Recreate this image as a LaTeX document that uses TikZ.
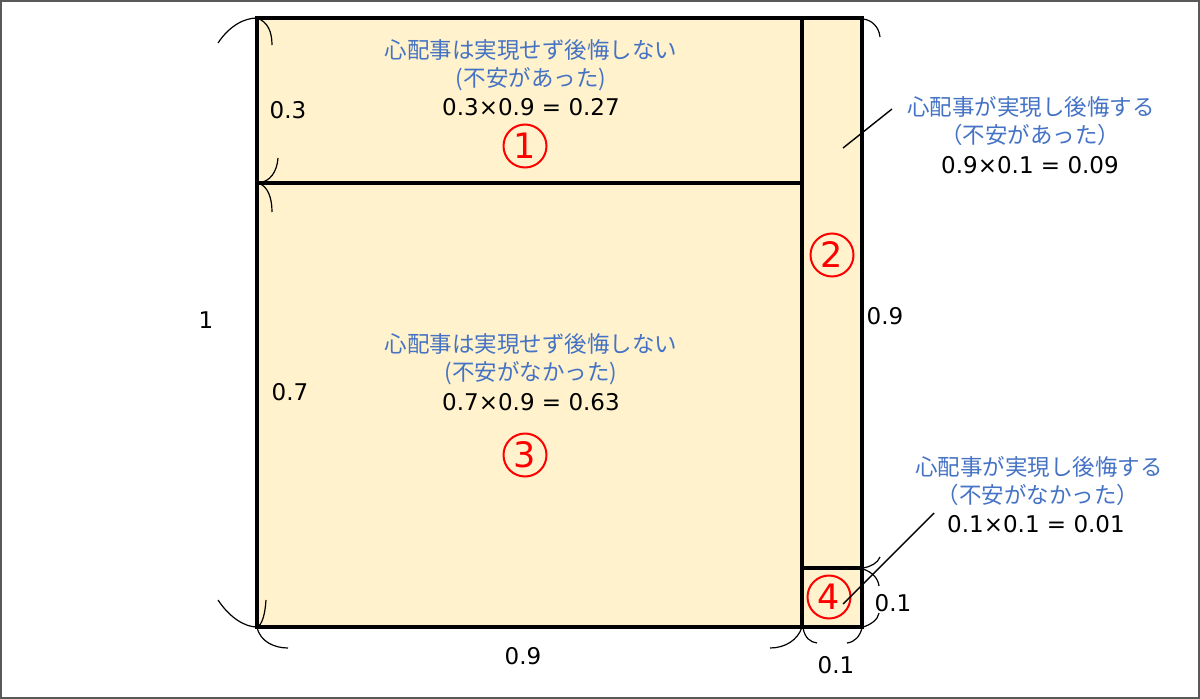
\documentclass[tikz,border=0pt]{standalone}
\usepackage{fontspec}
\setmainfont{DejaVu Sans}
\newfontfamily\jp{Noto Sans CJK JP}
\definecolor{boxfill}{HTML}{FFF2CC}
\definecolor{txtblue}{HTML}{4472C4}
\definecolor{framegray}{HTML}{595959}
\begin{document}
\begin{tikzpicture}[x=1pt,y=-1pt,
  jptext/.style={font=\jp\fontsize{22.5}{26}\selectfont, text=txtblue, inner sep=0pt},
  numtext/.style={font=\fontsize{23}{26}\selectfont, inner sep=0pt},
  circnum/.style={circle, draw=red, line width=2pt, text=red, minimum size=43pt, inner sep=0pt, font=\fontsize{35}{35}\selectfont},
  bracearc/.style={line width=1.2pt},
  boxline/.style={line width=3.4pt},
  leader/.style={line width=1.4pt}]
\useasboundingbox (0,0) rectangle (1200,699);
\draw[framegray, line width=2.4pt] (1,1) rectangle (1199,698);

% boxes
\fill[boxfill] (257,18) rectangle (862,627);
\draw[boxline] (257,18) rectangle (862,627);
\draw[boxline] (802,18) -- (802,627);
\draw[boxline] (257,183) -- (802,183);
\draw[boxline] (802,568) -- (862,568);

% braces
\draw[bracearc] (218,43) .. controls (230,25) and (245,18) .. (257,18);
\draw[bracearc] (218,600) .. controls (230,618) and (245,627) .. (257,627);
\draw[bracearc] (257,18) .. controls (268,22) and (272,32) .. (272,45);
\draw[bracearc] (278,158) .. controls (277,172) and (270,182) .. (258,183);
\draw[bracearc] (258,183) .. controls (268,186) and (272,198) .. (272,212);
\draw[bracearc] (266,600) .. controls (265,615) and (262,625) .. (257,627);
\draw[bracearc] (257,627) .. controls (260,642) and (275,648) .. (288,648);
\draw[bracearc] (770,648) .. controls (785,648) and (798,640) .. (802,627);
\draw[bracearc] (803,628) .. controls (805,638) and (810,642) .. (817,643);
\draw[bracearc] (847,643) .. controls (855,642) and (860,636) .. (862,628);
\draw[bracearc] (863,19) .. controls (872,20) and (879,27) .. (880,37);
\draw[bracearc] (880,557) .. controls (878,563) and (870,567) .. (863,568);
\draw[bracearc] (863,569) .. controls (872,572) and (878,578) .. (879,586);
\draw[bracearc] (879,613) .. controls (878,620) and (870,625) .. (863,627);

% top block
\node[jptext] (t1a) at (531,50) {心配事は実現せず後悔しない};
\node[jptext] (t1b) at (531,79) {(不安があった)};
\node[numtext] (t1c) at (531,107) {0.3×0.9 = 0.27};
\node[circnum] (c1) at (525,146) {1};

% middle block
\node[jptext] (t3a) at (531,344) {心配事は実現せず後悔しない};
\node[jptext] (t3b) at (531,373) {(不安がなかった)};
\node[numtext] (t3c) at (531,402) {0.7×0.9 = 0.63};
\node[circnum] (c3) at (525,455) {3};

\node[circnum] (c2) at (832,255) {2};
\node[circnum] (c4) at (829,597) {4};

% right texts
\node[jptext] (t2a) at (1031,107) {心配事が実現し後悔する};
\node[jptext] (t2b) at (1030,135) {（不安があった）};
\node[numtext] (t2c) at (1030,165) {0.9×0.1 = 0.09};

\node[jptext] (t4a) at (1039,467) {心配事が実現し後悔する};
\node[jptext] (t4b) at (1038,495) {（不安がなかった）};
\node[numtext] (t4c) at (1036,524) {0.1×0.1 = 0.01};

% leader lines
\coordinate (l2s) at (843,148);
\coordinate (l2e) at (892,109);
\draw[leader] (l2s) -- (l2e);
\coordinate (l4s) at (843,604);
\coordinate (l4e) at (934,513);
\draw[leader] (l4s) -- (l4e);

% dimension labels
\node[numtext] (d03) at (288,110) {0.3};
\node[numtext] (d07) at (290,392) {0.7};
\node[numtext] (d1) at (206,320) {1};
\node[numtext] (d09r) at (885,316) {0.9};
\node[numtext] (d01r) at (893,603) {0.1};
\node[numtext] (d09b) at (523,656) {0.9};
\node[numtext] (d01b) at (836,665) {0.1};
\end{tikzpicture}
\end{document}
